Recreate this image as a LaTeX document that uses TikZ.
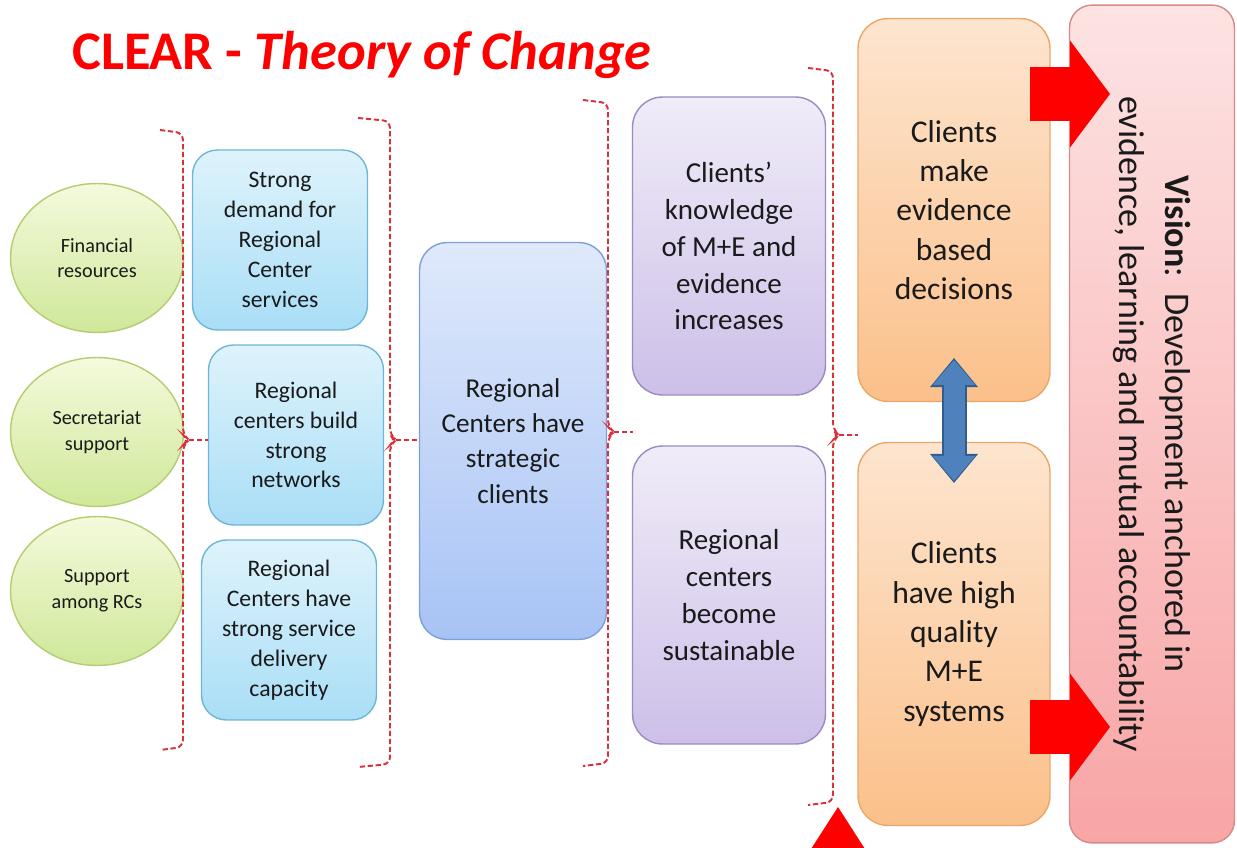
\documentclass[tikz,border=0pt]{standalone}
\usepackage{fontspec}
\setmainfont{Carlito}
\usetikzlibrary{shapes.geometric,arrows.meta}

\definecolor{ink}{HTML}{1A1A1A}
\definecolor{greentop}{HTML}{F4FADC}
\definecolor{greenbot}{HTML}{CFE89A}
\definecolor{greenedge}{HTML}{B5CC72}
\definecolor{cyantop}{HTML}{DEF3FC}
\definecolor{cyanbot}{HTML}{A9DEF6}
\definecolor{cyanedge}{HTML}{6FB6D6}
\definecolor{bluetop}{HTML}{DFE9FB}
\definecolor{bluebot}{HTML}{A7C3F5}
\definecolor{blueedge}{HTML}{7F9FD9}
\definecolor{lilactop}{HTML}{F0ECF8}
\definecolor{lilacbot}{HTML}{CDBFE8}
\definecolor{lilacedge}{HTML}{9A8BC2}
\definecolor{orangetop}{HTML}{FDE5CF}
\definecolor{orangebot}{HTML}{FBC08A}
\definecolor{orangeedge}{HTML}{EBA76A}
\definecolor{pinktop}{HTML}{FDE3E3}
\definecolor{pinkbot}{HTML}{F8A5A5}
\definecolor{pinkedge}{HTML}{D68A8A}
\definecolor{bracered}{HTML}{D9303A}
\definecolor{swapblue}{HTML}{4F81BD}
\definecolor{swapedge}{HTML}{2F5D8F}

\begin{document}
\begin{tikzpicture}[x=0.02cm,y=-0.02cm,
    txt/.style={text=ink,align=center,inner sep=2pt,line width=0.8pt},
    resource/.style={txt,ellipse,draw=greenedge,top color=greentop,bottom color=greenbot,minimum width=3.46cm,minimum height=2.98cm,font=\fontsize{11.5}{14.7}\selectfont},
    capacity/.style={txt,rectangle,rounded corners=0.5cm,draw=cyanedge,top color=cyantop,bottom color=cyanbot,minimum width=3.5cm,minimum height=3.6cm,font=\fontsize{13.5}{17}\selectfont},
    strategic/.style={txt,rectangle,rounded corners=0.55cm,draw=blueedge,top color=bluetop,bottom color=bluebot,minimum width=3.74cm,minimum height=7.94cm,font=\fontsize{15.5}{20}\selectfont},
    outcome/.style={txt,rectangle,rounded corners=0.6cm,draw=lilacedge,top color=lilactop,bottom color=lilacbot,minimum width=3.86cm,minimum height=5.96cm,font=\fontsize{16.5}{21}\selectfont},
    impact/.style={txt,rectangle,rounded corners=0.6cm,draw=orangeedge,top color=orangetop,bottom color=orangebot,minimum width=3.84cm,minimum height=7.66cm,font=\fontsize{18}{22.4}\selectfont},
    vision/.style={txt,rectangle,rounded corners=0.45cm,draw=pinkedge,top color=pinktop,bottom color=pinkbot,rotate=-90,minimum width=16.76cm,minimum height=3.3cm,font=\fontsize{20.5}{26.5}\selectfont},
    dashbrace/.style={draw=bracered,line width=1.1pt,dash pattern=on 3pt off 1.5pt,rounded corners=4pt},
    push/.style={draw=red,line width=1.08cm,-{Triangle[width=2.14cm,length=0.8cm,line width=0pt]}},
    swapline/.style={draw=swapblue,line width=0.42cm,{Triangle[width=0.86cm,length=0.5cm,line width=0pt]}-{Triangle[width=0.86cm,length=0.5cm,line width=0pt]}},
    swapline edge/.style={draw=swapedge,line width=0.5cm,shorten <=-1.2pt,shorten >=-1.2pt,{Triangle[width=0.96cm,length=0.58cm,line width=0pt]}-{Triangle[width=0.96cm,length=0.58cm,line width=0pt]}}
  ]
    \useasboundingbox (0,0) rectangle (1237,848);

    % Title
    \node (title) [anchor=west,text=red,font=\fontsize{31}{36}\selectfont\bfseries] at (66,55) {CLEAR - \textit{Theory of Change}};

    % Resources
    \node (fin) [resource] at (97,258) {Financial\\resources};
    \node (sec) [resource] at (97,432) {Secretariat\\support};
    \node (rcs) [resource] at (97,591) {Support\\among RCs};

    % Capacities
    \node (demand) [capacity] at (280,240) {Strong\\demand for\\Regional\\Center\\services};
    \node (network) [capacity] at (296,435) {Regional\\centers build\\strong\\networks};
    \node (delivery) [capacity] at (289,630) {Regional\\Centers have\\strong service\\delivery\\capacity};

    % Strategic clients
    \node (clients) [strategic] at (513,441) {Regional\\Centers have\\strategic\\clients};

    % Outcomes
    \node (know) [outcome] at (729,246) {Clients'\\knowledge\\of M+E and\\evidence\\increases};
    \node (sustain) [outcome] at (729,595) {Regional\\centers\\become\\sustainable};

    % Vision
    \node (vision) [vision] at (1152,424) {\textbf{Vision}:\ \ Development anchored in\\evidence, learning and mutual accountability};

    % Impacts
    \node (decide) [impact] at (954,210) {Clients\\make\\evidence\\based\\decisions};
    \node (systems) [impact] at (954,634) {Clients\\have high\\quality\\M+E\\systems};

    % Dashed braces
    \coordinate (gapP) at (633,432);
    \coordinate (gapO) at (858,435);
    \foreach \xl/\xr/\ya/\yb/\ym/\tip in {160/183/130/750/440/network.west, 358/390/118/767/440/clients.west, 583/608/100/766/432/gapP, 808/833/68/805/435/gapO}
    {
      \draw [dashbrace] (\xl,\ya) -- (\xr,\ya+3) -- (\xr,\ym-5) -- (\xr+6,\ym) -- (\xr,\ym+5) -- (\xr,\yb-3) -- (\xl,\yb);
      \draw [dashbrace] (\xr+6,\ym) -- (\tip |- 0,\ym);
    };

    % Two-way link
    \draw [swapline edge] ([yshift=0.84cm]decide.south) -- ([yshift=-0.78cm]systems.north);
    \draw [swapline] ([yshift=0.84cm]decide.south) -- ([yshift=-0.78cm]systems.north);

    % Red arrows into the vision
    \coordinate (s1) at (1030,94);
    \coordinate (v1) at (1110,94);
    \coordinate (s2) at (1030,727);
    \coordinate (v2) at (1110,727);
    \draw [push] (s1) -- (v1);
    \draw [push] (s2) -- (v2);
    \fill [red] (838,807) -- (872,860) -- (804,860) -- cycle;

\end{tikzpicture}
\end{document}
